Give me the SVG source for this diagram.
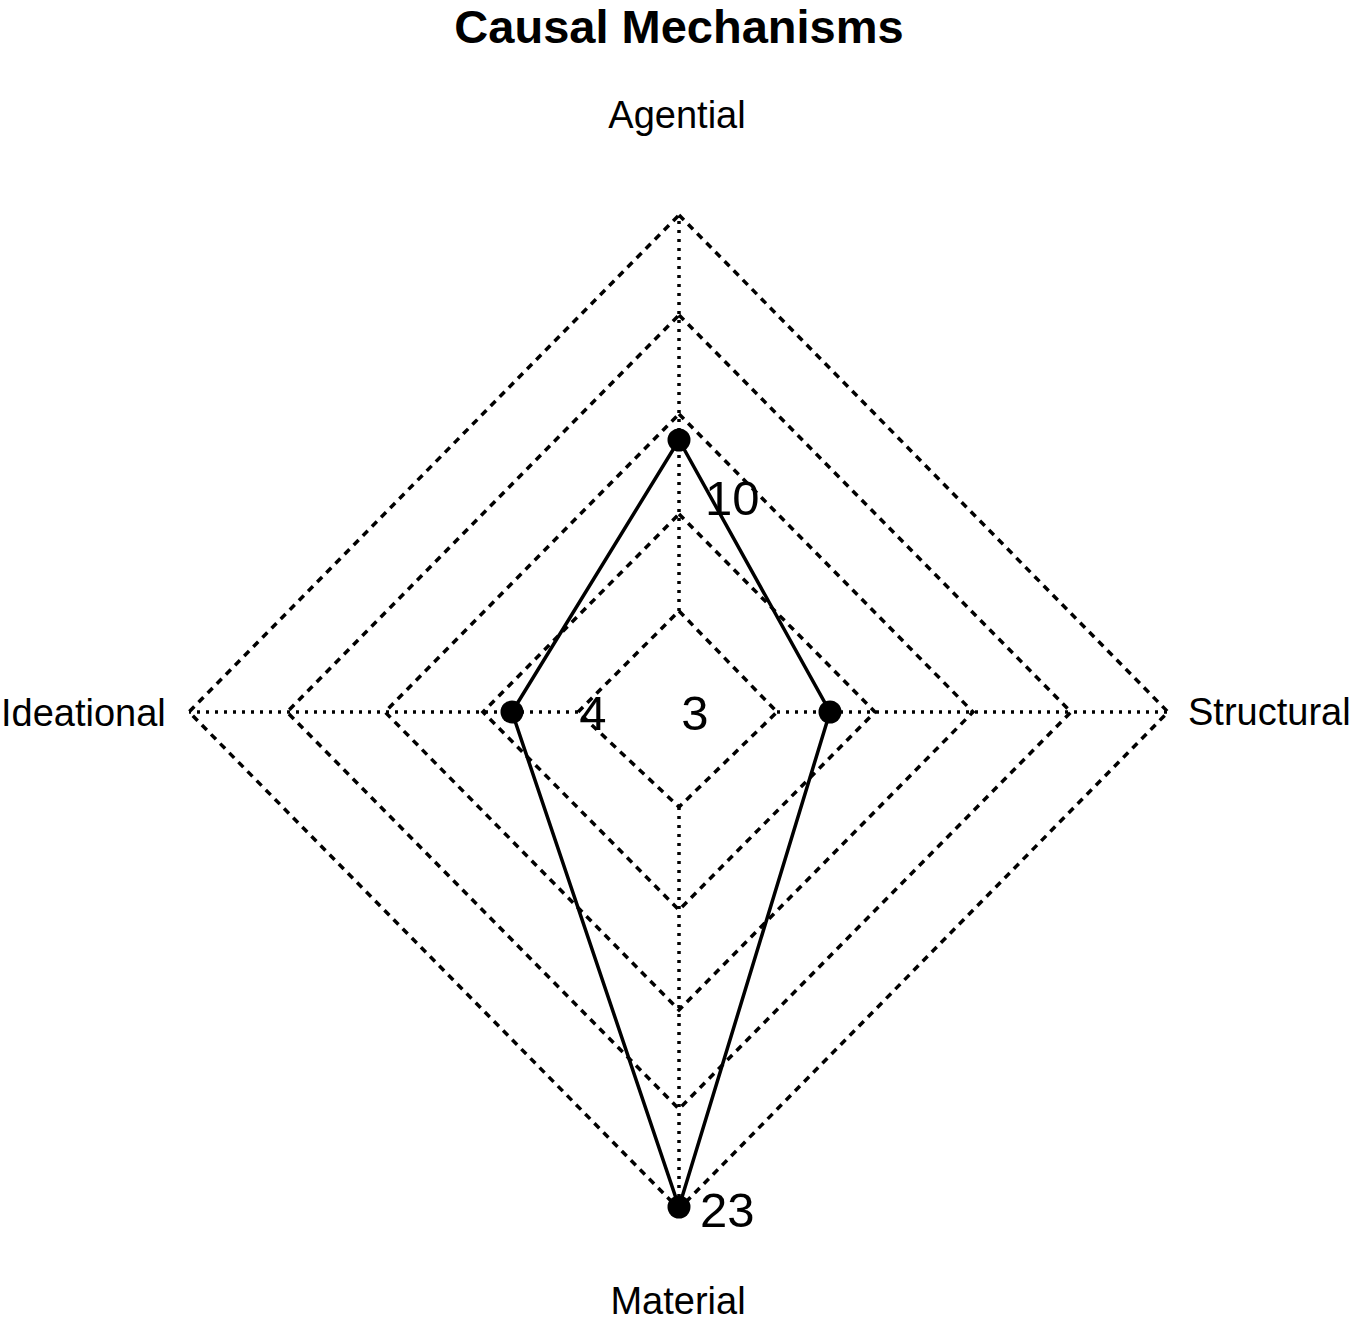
<svg xmlns="http://www.w3.org/2000/svg" width="1358" height="1325" viewBox="0 0 1358 1325">
<style>
.bg{fill:#ffffff}
.grid{fill:none;stroke:#000;stroke-width:3.5;stroke-dasharray:7 6}
.axis{fill:none;stroke:#000;stroke-width:3.5;stroke-dasharray:3 6}
.data{fill:none;stroke:#000;stroke-width:3.5;stroke-linejoin:miter}
.pt{fill:#000}
text{font-family:"Liberation Sans",Arial,sans-serif;fill:#000}
.title{font-size:47px;font-weight:bold;text-anchor:middle}
.lab{font-size:38px}
.num{font-size:49px}
</style>
<rect class="bg" x="0" y="0" width="1358" height="1325"/>
<g id="grid">
<polygon class="grid" points="679,611 777,712 679,807 578,712"/>
<polygon class="grid" points="679,514 875,712 679,910 483,712"/>
<polygon class="grid" points="679,414 973,712 679,1010 385,712"/>
<polygon class="grid" points="679,315 1071,712 679,1109 287,712"/>
<polygon class="grid" points="679,215 1168,712 679,1209 189,712"/>
</g>
<g id="connectors">
<line class="axis" x1="679" y1="611" x2="679" y2="215"/>
<line class="axis" x1="777" y1="712" x2="1168" y2="712"/>
<line class="axis" x1="679" y1="807" x2="679" y2="1209"/>
<line class="axis" x1="578" y1="712" x2="189" y2="712"/>
<polygon class="data" points="679,440 830,712 679,1207 512,712"/>
</g>
<g id="node-agential">
<circle class="pt" cx="679" cy="440" r="11.5"/>
<text class="num" x="705" y="515">10</text>
</g>
<g id="node-structural">
<circle class="pt" cx="830" cy="712" r="11.5"/>
<text class="num" x="695" y="730" text-anchor="middle">3</text>
</g>
<g id="node-material">
<circle class="pt" cx="679" cy="1207" r="11.5"/>
<text class="num" x="700" y="1227">23</text>
</g>
<g id="node-ideational">
<circle class="pt" cx="512" cy="712" r="11.5"/>
<text class="num" x="593" y="730" text-anchor="middle">4</text>
</g>
<g id="labels">
<text class="title" x="679" y="43">Causal Mechanisms</text>
<text class="lab" x="677" y="128" text-anchor="middle">Agential</text>
<text class="lab" x="1188" y="725">Structural</text>
<text class="lab" x="678" y="1314" text-anchor="middle">Material</text>
<text class="lab" x="1" y="726">Ideational</text>
</g>
</svg>
